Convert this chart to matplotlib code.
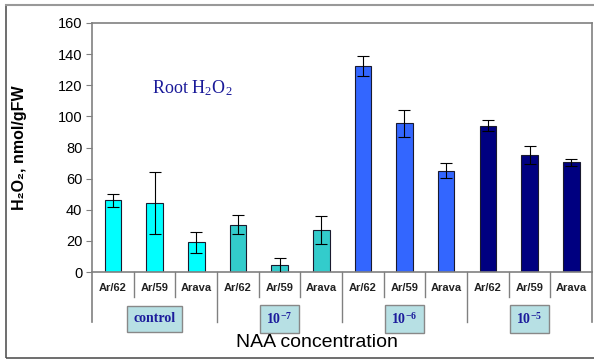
import numpy as np
import matplotlib
matplotlib.use("Agg")
import matplotlib.pyplot as plt
from matplotlib.patches import Rectangle
from matplotlib.lines import Line2D
from matplotlib.transforms import blended_transform_factory

matplotlib.rcParams["font.family"] = ["Liberation Sans", "DejaVu Sans"]
matplotlib.rcParams["mathtext.fontset"] = "stix"

# H2O2 content in roots, per line and NAA concentration
lines = ["Ar/62", "Ar/59", "Arava"]
groups = ["control", "10$^{\\mathregular{-7}}$", "10$^{\\mathregular{-6}}$", "10$^{\\mathregular{-5}}$"]
values = [46, 44.5, 19, 30.5, 4.3, 27, 132.5, 95.5, 65, 94, 75, 70.5]
errors = [4, 20, 6.5, 6, 5, 9, 6.3, 8.7, 4.8, 3.5, 5.8, 2.3]
group_colors = ["#00FFFF", "#33CCCC", "#3366FF", "#000080"]

fig = plt.figure(figsize=(5.94, 3.6), dpi=100)
W, H = 594, 360

# outer frame
frame = Rectangle((6 / W, 2 / H), 1.2, 353 / H, transform=fig.transFigure,
                  fill=False, edgecolor="#555555", lw=1.2)
fig.patches.append(frame)
fig.add_artist(Line2D([6 / W, 1], [355 / H, 355 / H], transform=fig.transFigure,
                      color="#999999", lw=1.5))

ax = fig.add_axes([92 / W, 88 / H, 500 / W, 249 / H])

n = len(values)
x = np.arange(n)
colors = [group_colors[i // 3] for i in range(n)]
ax.bar(x, values, width=0.4, color=colors, edgecolor="#1a1a2e", linewidth=0.8, zorder=2)
ax.errorbar(x, values, yerr=errors, fmt="none", ecolor="black", elinewidth=0.8,
            capsize=4, capthick=0.8, zorder=3)

ax.set_xlim(-0.5, n - 0.5)
ax.set_ylim(0, 160)
ax.set_yticks(range(0, 161, 20))
ax.tick_params(axis="y", labelsize=10.5, length=4, width=0.8, color="#808080", pad=3)
ax.set_xticks([])
for s in ax.spines.values():
    s.set_color("#808080")
    s.set_linewidth(1.2)

ax.set_ylabel("H₂O₂, nmol/gFW", fontsize=11.5, fontweight="bold")
ax.yaxis.set_label_coords(-0.13, 0.5)

ax.text(0.95, 118, "Root H$_\\mathregular{2}$O$_\\mathregular{2}$", color="#1a1a99",
        fontsize=13, family="Liberation Serif", va="center", ha="left")

# category axis below the bars
tr = blended_transform_factory(ax.transData, ax.transAxes)
for i in range(n):
    ax.text(x[i], -0.066, lines[i % 3], transform=tr, ha="center", va="center",
            fontsize=8, fontweight="bold", color="#222222")
for i in range(1, n):
    end = -0.2 if i % 3 == 0 else -0.1
    ax.add_line(Line2D([i - 0.5, i - 0.5], [0, end], transform=tr, color="#808080",
                       lw=1.0, clip_on=False))
for b in (-0.5, n - 0.5):
    ax.add_line(Line2D([b, b], [0, -0.2], transform=tr, color="#808080",
                       lw=1.2, clip_on=False))
for g, name in enumerate(groups):
    ax.text(3 * g + 1, -0.188, name, transform=tr, ha="center", va="center",
            fontsize=10, family="Liberation Serif", fontweight="bold", color="#1c1c9c",
            bbox=dict(boxstyle="square,pad=0.45", facecolor="#B7E0E4", edgecolor="#888888", lw=1))

ax.text(0.45, -0.285, "NAA concentration", transform=ax.transAxes, ha="center",
        va="center", fontsize=14)

fig.savefig("out.png", dpi=100)
